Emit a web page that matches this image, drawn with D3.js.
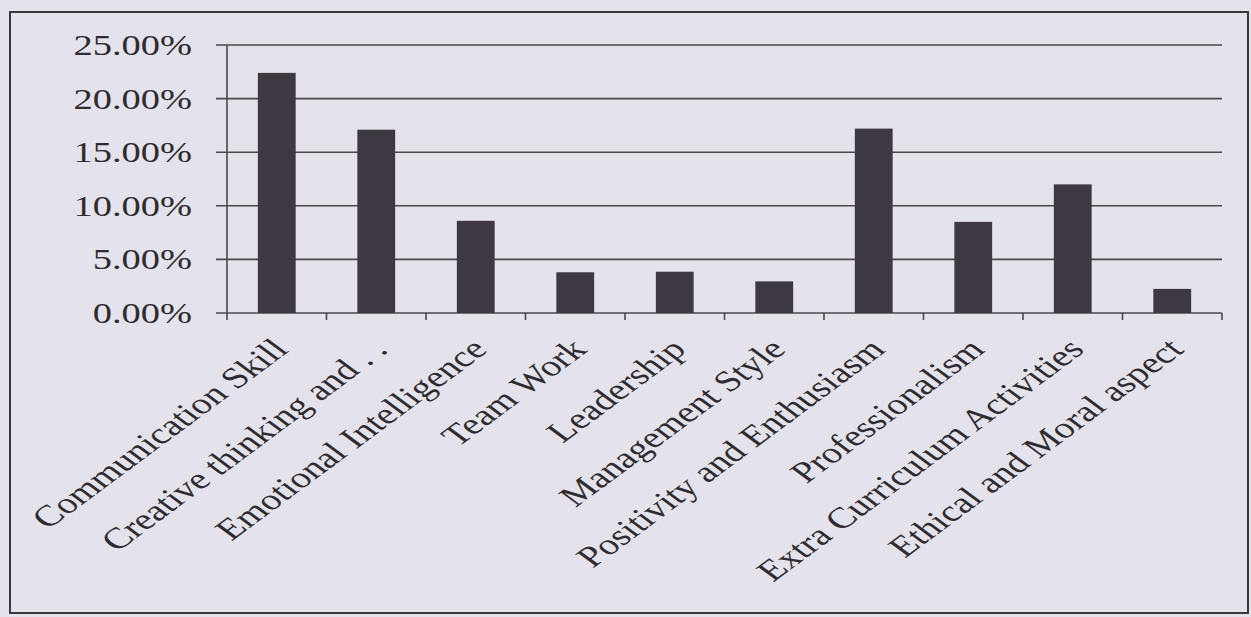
<!DOCTYPE html>
<html>
<head>
<meta charset="utf-8">
<script src="https://cdn.jsdelivr.net/npm/d3@7/dist/d3.min.js"></script>
<style>
  html, body { margin: 0; padding: 0; background: #e4e2ea; }
  svg { display: block; }
  text { font-family: "Liberation Serif", "Times New Roman", serif; fill: #2e2c30; }
</style>
</head>
<body>
<svg id="chart" width="1251" height="617"></svg>
<script>
const categories = [
  "Communication Skill",
  "Creative thinking and . .",
  "Emotional Intelligence",
  "Team Work",
  "Leadership",
  "Management Style",
  "Positivity and Enthusiasm",
  "Professionalism",
  "Extra Curriculum Activities",
  "Ethical and Moral aspect"
];
const values = [22.4, 17.1, 8.6, 3.8, 3.85, 2.95, 17.2, 8.5, 12.0, 2.25];
const yTicks = [0, 5, 10, 15, 20, 25];

const svg = d3.select("#chart");
const W = 1251, H = 617;
const plot = { left: 227, right: 1222, top: 45, bottom: 313 };
const stretch = 1.35;

svg.append("rect").attr("width", W).attr("height", H).attr("fill", "#e4e2ea");

// outer frame
svg.append("rect")
  .attr("x", 10).attr("y", 12).attr("width", 1238).attr("height", 601)
  .attr("fill", "none").attr("stroke", "#3a383c").attr("stroke-width", 2);

const x = d3.scaleBand().domain(categories)
  .range([plot.left, plot.right]).paddingInner(0.62).paddingOuter(0.31);
const xb = d3.scaleBand().domain(categories).range([plot.left, plot.right]);
const y = d3.scaleLinear().domain([0, 25]).range([plot.bottom, plot.top]);

// gridlines
svg.append("g").selectAll("line").data(yTicks).join("line")
  .attr("x1", plot.left - 11).attr("x2", plot.right)
  .attr("y1", d => y(d)).attr("y2", d => y(d))
  .attr("stroke", "#4a484c").attr("stroke-width", 1.6);

// y axis line
svg.append("line")
  .attr("x1", plot.left).attr("x2", plot.left)
  .attr("y1", y(25)).attr("y2", y(0) + 7)
  .attr("stroke", "#4a484c").attr("stroke-width", 1.6);

// x ticks at category boundaries
const bounds = categories.map(c => xb(c) + xb.bandwidth()).slice(0, -1).concat([plot.right]);
svg.append("g").selectAll("line").data(bounds).join("line")
  .attr("x1", d => d).attr("x2", d => d)
  .attr("y1", y(0)).attr("y2", y(0) + 7)
  .attr("stroke", "#4a484c").attr("stroke-width", 1.6);

// y labels
svg.append("g").selectAll("text").data(yTicks).join("text")
  .attr("transform", d => `translate(192,${y(d) + 10}) scale(${stretch},1)`)
  .attr("text-anchor", "end")
  .attr("font-size", 28.5)
  .text(d => d.toFixed(2) + "%");

// bars
svg.append("g").selectAll("rect").data(values).join("rect")
  .attr("x", (d, i) => x(categories[i]))
  .attr("width", x.bandwidth())
  .attr("y", d => y(d))
  .attr("height", d => y(0) - y(d))
  .attr("fill", "#3e3842");

// category labels
svg.append("g").selectAll("text").data(categories).join("text")
  .attr("transform", d => `translate(${x(d) + x.bandwidth() / 2 + 13},${351}) scale(${stretch},1) rotate(-45)`)
  .attr("text-anchor", "end")
  .attr("font-size", 29.5)
  .text(d => d);
</script>
</body>
</html>
